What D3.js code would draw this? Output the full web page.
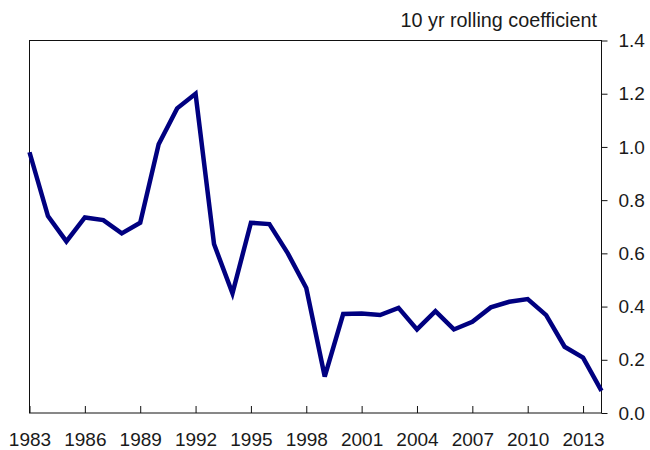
<!doctype html>
<html>
<head>
<meta charset="utf-8">
<style>
  body { margin: 0; background: #fff; }
  svg { display: block; }
</style>
</head>
<body>
<svg width="650" height="450" font-family="'Liberation Sans', Arial, sans-serif"></svg>
<script src="https://d3js.org/d3.v7.min.js"></script>
<script>
  // 10 yr rolling coefficient, yearly
  const years = d3.range(1983, 2015);
  const coefficient = [
    0.98, 0.74, 0.645, 0.735, 0.725, 0.675, 0.715, 1.01, 1.145, 1.20,
    0.635, 0.45, 0.715, 0.71, 0.60, 0.47, 0.137, 0.372, 0.374, 0.368,
    0.395, 0.314, 0.383, 0.314, 0.343, 0.397, 0.418, 0.428, 0.368, 0.249,
    0.208, 0.083
  ];
  const xTicks = [1983, 1986, 1989, 1992, 1995, 1998, 2001, 2004, 2007, 2010, 2013];
  const yTicks = [0, 0.2, 0.4, 0.6, 0.8, 1.0, 1.2, 1.4];
  const title = "10 yr rolling coefficient";

  let svg = d3.select("svg");
  let plotLeft = 29.5, plotRight = 601.5, plotTop = 40.5, plotBottom = 413;

  let x = d3.scaleLinear().domain([1983, 2014]).range([plotLeft, plotRight]);
  let y = d3.scaleLinear().domain([0, 1.4]).range([plotBottom, plotTop]);

  // frame
  svg.append("rect")
    .attr("x", plotLeft).attr("y", plotTop)
    .attr("width", plotRight - plotLeft).attr("height", plotBottom - plotTop)
    .attr("fill", "none").attr("stroke", "#111").attr("stroke-width", 1);

  let xAxis = svg.append("g")
    .attr("transform", "translate(0," + plotBottom + ")")
    .call(d3.axisBottom(x).tickValues(xTicks).tickFormat(d3.format("d"))
      .tickSizeInner(-7).tickSizeOuter(0).tickPadding(20));

  let yAxis = svg.append("g")
    .attr("transform", "translate(" + plotRight + ",0)")
    .call(d3.axisRight(y).tickValues(yTicks).tickFormat(d3.format(".1f"))
      .tickSize(6).tickPadding(11));

  [xAxis, yAxis].forEach(g => {
    g.select(".domain").remove();
    g.selectAll("line").attr("stroke", "#111");
    g.selectAll("text").attr("fill", "#1a1a1a").attr("font-size", 19);
    g.attr("font-family", null).attr("font-size", null);
  });

  let line = d3.line()
    .x((d, i) => x(years[i]))
    .y(d => y(d));

  svg.append("path")
    .datum(coefficient)
    .attr("d", line)
    .attr("fill", "none")
    .attr("stroke", "#000080")
    .attr("stroke-width", 4.5)
    .attr("stroke-linejoin", "miter");

  svg.append("text")
    .attr("x", 597).attr("y", 27)
    .attr("text-anchor", "end")
    .attr("font-size", 19.8)
    .attr("fill", "#1a1a1a")
    .text(title);
</script>
</body>
</html>
